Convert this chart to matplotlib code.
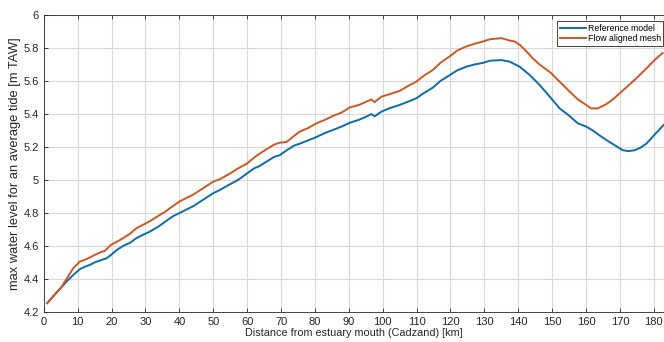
import matplotlib
matplotlib.use("Agg")
import matplotlib.pyplot as plt
from matplotlib.ticker import MultipleLocator

plt.rcParams["font.family"] = ["Liberation Sans", "DejaVu Sans"]

# Distance along estuary [km] and max water level [m TAW]
ref_km = [1.0, 3.0, 5.2, 7.0, 8.7, 10.6, 12.0, 13.6, 15.0, 17.0, 18.5, 19.8, 21.5, 23.4,
          25.5, 27.3, 29.0, 31.3, 34.0, 36.0, 38.1, 40.1, 42.0, 44.0, 47.0, 50.0, 52.0,
          55.0, 57.3, 60.0, 62.0, 63.7, 66.0, 68.0, 69.6, 72.0, 74.0, 75.5, 78.0, 80.4,
          83.0, 85.3, 88.0, 90.3, 93.0, 95.2, 96.6, 97.6, 99.6, 102.0, 105.0, 107.5,
          109.9, 112.0, 114.8, 117.0, 119.8, 122.0, 124.7, 127.0, 129.6, 131.6, 133.5,
          135.0, 137.5, 140.4, 143.4, 146.3, 149.3, 152.2, 155.0, 157.6,
          160.1, 162.0, 164.0, 166.0, 168.5, 170.9, 172.5, 174.3, 176.0, 177.8, 180.0,
          182.9]
ref_wl = [4.253, 4.30, 4.35, 4.39, 4.424, 4.459, 4.473, 4.485, 4.50, 4.515, 4.525, 4.545,
          4.575, 4.60, 4.62, 4.647, 4.665, 4.687, 4.72, 4.75, 4.78, 4.80, 4.82, 4.84,
          4.88, 4.92, 4.94, 4.975, 5.00, 5.04, 5.07, 5.085, 5.115, 5.14, 5.15, 5.185,
          5.21, 5.22, 5.24, 5.26, 5.285, 5.303, 5.325, 5.347, 5.365, 5.384, 5.40, 5.386,
          5.414, 5.435, 5.455, 5.475, 5.495, 5.525, 5.56, 5.60, 5.636, 5.665, 5.687,
          5.70, 5.71, 5.723, 5.725, 5.727, 5.717, 5.687, 5.636, 5.576, 5.505, 5.434,
          5.39, 5.343, 5.323, 5.30, 5.27, 5.242, 5.21, 5.18, 5.175, 5.18,
          5.195, 5.22, 5.27, 5.333]

flow_km = [1.0, 3.0, 5.2, 7.0, 8.7, 10.6, 12.0, 13.6, 15.0, 16.5, 18.0, 19.8, 21.5, 23.4,
           25.5, 27.3, 29.0, 31.3, 34.0, 36.0, 38.1, 40.1, 42.0, 44.0, 47.0, 50.0, 52.0,
           55.0, 57.3, 60.0, 62.0, 63.7, 66.0, 68.0, 69.6, 71.6, 74.0, 75.5, 78.0, 80.4,
           83.0, 85.3, 88.0, 90.3, 93.0, 95.2, 96.6, 97.6, 99.6, 102.0, 105.0, 107.5,
           109.9, 112.0, 114.8, 117.0, 119.8, 122.0, 124.7, 127.0, 129.6, 131.6, 135.0,
           137.5, 138.9, 140.4, 142.4, 144.3, 146.3, 147.8, 149.8, 151.2, 153.2, 155.2,
           157.5, 159.3, 161.5, 163.5, 166.0, 168.0, 169.9, 172.9, 174.8, 177.5, 180.2,
           182.6]
flow_wl = [4.253, 4.30, 4.35, 4.41, 4.465, 4.505, 4.515, 4.53, 4.545, 4.56, 4.57, 4.606,
           4.625, 4.647, 4.675, 4.707, 4.725, 4.75, 4.785, 4.81, 4.842, 4.87, 4.89, 4.91,
           4.95, 4.99, 5.005, 5.04, 5.07, 5.10, 5.135, 5.16, 5.19, 5.215, 5.226, 5.23,
           5.27, 5.293, 5.315, 5.343, 5.365, 5.388, 5.41, 5.44, 5.455, 5.475, 5.488, 5.472,
           5.505, 5.52, 5.54, 5.57, 5.596, 5.63, 5.667, 5.71, 5.75, 5.785, 5.81, 5.825,
           5.84, 5.853, 5.86, 5.845, 5.84, 5.82, 5.78, 5.737, 5.70, 5.677, 5.646, 5.616,
           5.576, 5.535, 5.49, 5.465, 5.434, 5.434, 5.46, 5.49, 5.525, 5.58, 5.616, 5.67,
           5.727, 5.77]

BLUE = "#0b6dae"
ORANGE = "#d0581f"
AXCOL = "#262626"

fig = plt.figure(figsize=(6.64, 3.42), dpi=100)
ax = fig.add_axes([0.066, 0.088, 0.934, 0.868])

ax.plot(ref_km, ref_wl, color=BLUE, lw=1.4, label="Reference model")
ax.plot(flow_km, flow_wl, color=ORANGE, lw=1.4, label="Flow aligned mesh")

ax.set_xlim(0, 183)
ax.set_ylim(4.2, 6.0)
ax.xaxis.set_major_locator(MultipleLocator(10))
ax.yaxis.set_major_locator(MultipleLocator(0.2))
ax.yaxis.set_major_formatter(plt.FuncFormatter(lambda v, p: f"{v:g}"))
ax.grid(True, color="#d9d9d9", linewidth=0.8)
ax.set_axisbelow(True)

for side in ["left", "bottom", "top"]:
    ax.spines[side].set_color(AXCOL)
    ax.spines[side].set_linewidth(0.6)
ax.spines["right"].set_visible(False)
ax.tick_params(direction="in", length=3, width=0.6, colors=AXCOL, labelsize=8,
               top=True)

ax.set_xlabel("Distance from estuary mouth (Cadzand) [km]", fontsize=7.8, color=AXCOL,
              labelpad=1)
ax.set_ylabel("max water level for an average tide [m TAW]", fontsize=9.3, color=AXCOL,
              labelpad=2)

leg = ax.legend(loc="upper right", bbox_to_anchor=(0.999, 0.98), fontsize=6.3,
                frameon=True, fancybox=False, edgecolor=AXCOL, framealpha=1,
                handlelength=3.0, borderpad=0.3, labelspacing=0.2, handletextpad=0.2,
                borderaxespad=0)
leg.get_frame().set_linewidth(0.6)

fig.savefig("out.png", dpi=100)
